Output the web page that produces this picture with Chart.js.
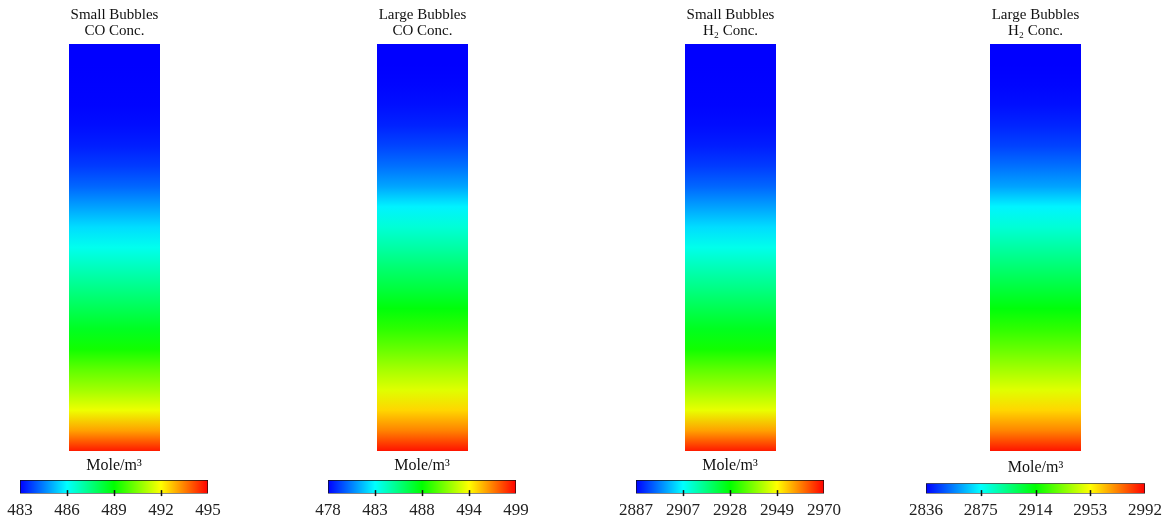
<!DOCTYPE html>
<html>
<head>
<meta charset="utf-8">
<script src="https://cdn.jsdelivr.net/npm/chart.js@4.4.1/dist/chart.umd.min.js"></script>
<style>
    html, body { margin: 0; padding: 0; background: #fff; width: 1169px; height: 525px; overflow: hidden; }
    canvas { position: absolute; }
</style>
</head>
<body>
<script>
// height above the column bottom, as a fraction of the column height
const heightLevels = [0, 0.05, 0.1, 0.15, 0.2, 0.25, 0.3, 0.35, 0.4, 0.45, 0.5,
                      0.55, 0.6, 0.65, 0.7, 0.75, 0.8, 0.85, 0.9, 0.95, 1];

// concentrations (Mole/m3), bottom to top
const smallCO = [494.7, 493.1, 491.8, 490.9, 490.1, 489.2, 488.6, 488.0, 487.4, 486.8, 486.2,
                 485.6, 484.9, 484.2, 483.7, 483.35, 483.15, 483.05, 483.02, 483.0, 483.0];
const largeCO = [498.6, 496.3, 494.6, 493.1, 491.9, 490.6, 489.4, 488.3, 487.2, 486.2, 485.1,
                 484.1, 483.0, 481.4, 480.3, 479.4, 478.7, 478.3, 478.1, 478.0, 478.0];
const smallH2 = [2967.9, 2956.9, 2947.5, 2941.6, 2936.1, 2929.9, 2926.0, 2921.9, 2917.7, 2913.6, 2909.4,
                 2905.0, 2900.1, 2895.3, 2891.8, 2889.4, 2888.0, 2887.3, 2887.2, 2887.0, 2887.0];
const largeH2 = [2988.9, 2971.7, 2959.2, 2948.3, 2939.0, 2929.6, 2921.0, 2912.4, 2904.6, 2896.8, 2889.0,
                 2881.2, 2873.4, 2861.0, 2853.2, 2846.1, 2841.5, 2838.3, 2836.8, 2836.0, 2836.0];

const panelTitles = [
    ['Small Bubbles', 'CO Conc.'],
    ['Large Bubbles', 'CO Conc.'],
    ['Small Bubbles', 'H\u2082 Conc.'],
    ['Large Bubbles', 'H\u2082 Conc.']
];
const panelValues = [smallCO, largeCO, smallH2, largeH2];
const rangeMin = [483, 478, 2887, 2836];
const rangeMax = [495, 499, 2970, 2992];
const tickLabels = [
    ['483', '486', '489', '492', '495'],
    ['478', '483', '488', '494', '499'],
    ['2887', '2907', '2928', '2949', '2970'],
    ['2836', '2875', '2914', '2953', '2992']
];
const unitLabel = 'Mole/m\u00b3';

// page placement of each panel (pixels)
const placement = [
    { colLeft: 69,  barLeft: 20,  barWidth: 188, barTop: 454, barHeight: 74, titleTop: 2, titleGap: 4.8 },
    { colLeft: 377, barLeft: 328, barWidth: 188, barTop: 454, barHeight: 74, titleTop: 2, titleGap: 4.8 },
    { colLeft: 685, barLeft: 636, barWidth: 188, barTop: 454, barHeight: 74, titleTop: 2, titleGap: 4.8 },
    { colLeft: 990, barLeft: 926, barWidth: 219, barTop: 456, barHeight: 72, titleTop: 2, titleGap: 6 }
];
const COL_WIDTH = 91;
const SIDE = 55;
const FONT = "'Liberation Serif', 'Times New Roman', serif";

const jetStops = [[0, [0, 0, 255]], [0.25, [0, 255, 255]], [0.5, [0, 255, 0]], [0.75, [255, 255, 0]], [1, [255, 0, 0]]];

function jet(t) {
    t = Math.max(0, Math.min(1, t));
    for (let k = 1; k < jetStops.length; k++) {
        if (t <= jetStops[k][0]) {
            const [t0, c0] = jetStops[k - 1];
            const [t1, c1] = jetStops[k];
            const f = (t - t0) / (t1 - t0);
            const c = c0.map((v, j) => Math.round(v + (c1[j] - v) * f));
            return 'rgb(' + c.join(',') + ')';
        }
    }
    return 'rgb(255,0,0)';
}

function addCanvas(left, top, width, height) {
    const cv = document.createElement('canvas');
    cv.width = width;
    cv.height = height;
    cv.style.left = left + 'px';
    cv.style.top = top + 'px';
    cv.style.width = width + 'px';
    cv.style.height = height + 'px';
    document.body.appendChild(cv);
    return cv;
}

const tickMarks = {
    id: 'tickMarks',
    afterDatasetsDraw(chart) {
        const x = chart.scales.x;
        const c = chart.ctx;
        const b = chart.chartArea.bottom;
        c.save();
        c.strokeStyle = '#111';
        c.lineWidth = 1.5;
        x.ticks.slice(1, -1).forEach(t => {
            const px = Math.round(x.getPixelForValue(t.value)) + 0.5;
            c.beginPath();
            c.moveTo(px, b - 3.5);
            c.lineTo(px, b + 2.5);
            c.stroke();
        });
        c.restore();
    }
};

Chart.defaults.font.family = FONT;
Chart.defaults.color = '#111';

panelValues.forEach(function (values, i) {
    const p = placement[i];
    const min = rangeMin[i];
    const max = rangeMax[i];

    // the column: one bar filled with the concentration profile
    const colCanvas = addCanvas(p.colLeft - SIDE, 0, COL_WIDTH + 2 * SIDE, 451);
    new Chart(colCanvas.getContext('2d'), {
        type: 'bar',
        data: {
            labels: [''],
            datasets: [{
                data: [heightLevels[heightLevels.length - 1]],
                barPercentage: 1,
                categoryPercentage: 1,
                borderWidth: 0,
                backgroundColor: function (ctx) {
                    const chart = ctx.chart;
                    if (!chart.chartArea) return 'blue';
                    const y = chart.scales.y;
                    const g = chart.ctx.createLinearGradient(0, y.getPixelForValue(0), 0, y.getPixelForValue(1));
                    heightLevels.forEach((h, k) => g.addColorStop(h, jet((values[k] - min) / (max - min))));
                    return g;
                }
            }]
        },
        options: {
            responsive: false,
            animation: false,
            devicePixelRatio: 1,
            layout: { padding: { left: SIDE, right: SIDE, top: 0, bottom: 0 } },
            plugins: {
                legend: { display: false },
                tooltip: { enabled: false },
                title: {
                    display: true,
                    text: panelTitles[i],
                    color: '#111',
                    font: { size: 15, weight: 'normal', lineHeight: 16 / 15 },
                    padding: { top: 7, bottom: 5 }
                }
            },
            scales: {
                x: { display: false },
                y: { display: false, min: 0, max: 1 }
            }
        }
    });

    // the colour bar under the column
    const barCanvas = addCanvas(p.barLeft - 25, p.barTop, p.barWidth + 50, p.barHeight);
    new Chart(barCanvas.getContext('2d'), {
        type: 'bar',
        data: {
            labels: [''],
            datasets: [{
                data: [[min, max]],
                barPercentage: 1,
                categoryPercentage: 1,
                borderWidth: 1,
                borderColor: '#111',
                borderSkipped: false,
                backgroundColor: function (ctx) {
                    const chart = ctx.chart;
                    if (!chart.chartArea) return 'blue';
                    const x = chart.scales.x;
                    const g = chart.ctx.createLinearGradient(x.getPixelForValue(min), 0, x.getPixelForValue(max), 0);
                    jetStops.forEach(s => g.addColorStop(s[0], jet(s[0])));
                    return g;
                }
            }]
        },
        options: {
            indexAxis: 'y',
            responsive: false,
            animation: false,
            devicePixelRatio: 1,
            layout: { padding: { left: 25, right: 25, top: 0, bottom: 0 } },
            plugins: {
                legend: { display: false },
                tooltip: { enabled: false },
                title: {
                    display: true,
                    text: unitLabel,
                    color: '#111',
                    font: { size: 16, weight: 'normal' },
                    padding: { top: p.titleTop, bottom: p.titleGap }
                }
            },
            scales: {
                y: { display: false },
                x: {
                    type: 'linear',
                    min: min,
                    max: max,
                    grid: { display: false, drawTicks: false },
                    border: { display: false },
                    afterBuildTicks: function (scale) {
                        scale.ticks = tickLabels[i].map((l, k) => ({ value: min + (max - min) * k / 4 }));
                    },
                    ticks: {
                        autoSkip: false,
                        maxRotation: 0,
                        padding: 7,
                        color: '#222',
                        font: { size: 17 },
                        callback: function (value, index) {
                            return tickLabels[i][index];
                        }
                    }
                }
            }
        },
        plugins: [tickMarks]
    });
});
</script>
</body>
</html>
